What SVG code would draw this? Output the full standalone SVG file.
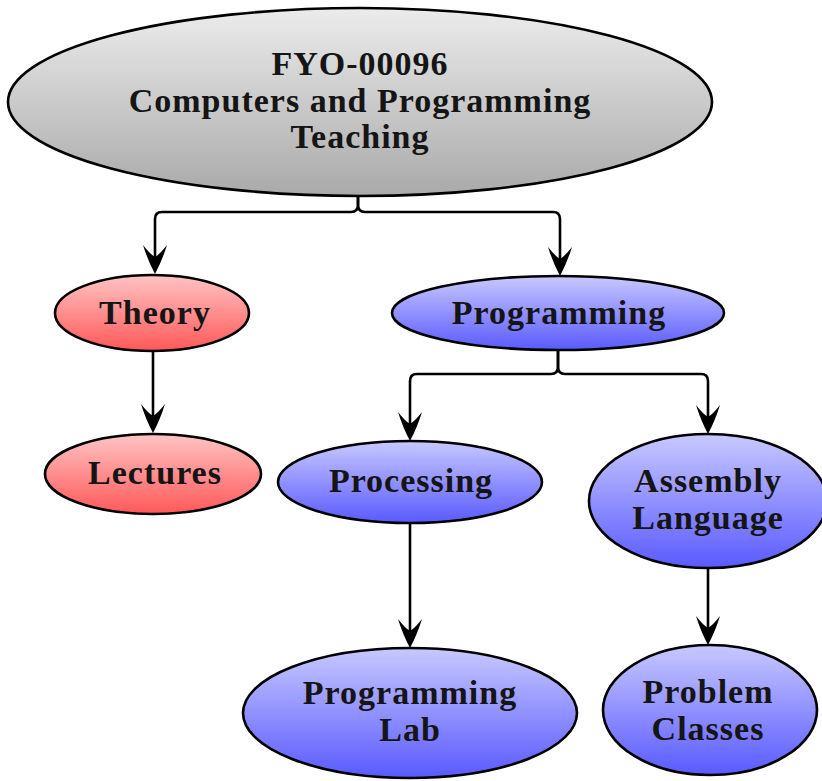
<svg xmlns="http://www.w3.org/2000/svg" width="822" height="781" viewBox="0 0 822 781">
  <defs>
    <linearGradient id="gGrey" x1="0" y1="0" x2="0" y2="1">
      <stop offset="0" stop-color="#ececec"/>
      <stop offset="1" stop-color="#a9a9a9"/>
    </linearGradient>
    <linearGradient id="gRed" x1="0" y1="0" x2="0" y2="1">
      <stop offset="0" stop-color="#ffc4c4"/>
      <stop offset="1" stop-color="#ff5858"/>
    </linearGradient>
    <linearGradient id="gBlue" x1="0" y1="0" x2="0" y2="1">
      <stop offset="0" stop-color="#c8c8ff"/>
      <stop offset="1" stop-color="#5a5aff"/>
    </linearGradient>
    <marker id="stealth" markerUnits="userSpaceOnUse" viewBox="-32 -14 34 28" markerWidth="34" markerHeight="28" refX="-10" refY="0" orient="auto">
      <path d="M0,0 Q-13,-7 -29,-12 Q-20,-5 -17,0 Q-20,5 -29,12 Q-13,7 0,0 Z" fill="#000"/>
    </marker>
    <style>
      .node ellipse { stroke: #000; stroke-width: 2.6; }
      .node text { font-family: "Liberation Serif", "Times New Roman", serif; font-weight: bold; font-size: 34px; letter-spacing: 1px; fill: #151515; text-anchor: middle; }
      .edge { fill: none; stroke: #000; stroke-width: 2.6; marker-end: url(#stealth); }
    </style>
  </defs>

  <!-- connectors -->
  <g id="connectors">
    <path class="edge" d="M358,196 L358,205 Q358,212 351,212 L162,212 Q155,212 155,219 L155,264"/>
    <path class="edge" d="M358,196 L358,205 Q358,212 365,212 L553,212 Q560,212 560,219 L560,266"/>
    <path class="edge" d="M153,351 L153,423"/>
    <path class="edge" d="M558,350 L558,367 Q558,374 551,374 L417,374 Q410,374 410,381 L410,431"/>
    <path class="edge" d="M558,350 L558,367 Q558,374 565,374 L701,374 Q708,374 708,381 L708,424"/>
    <path class="edge" d="M410,524 L410,638"/>
    <path class="edge" d="M708,568 L708,635"/>
  </g>

  <!-- nodes -->
  <g id="root" class="node">
    <ellipse cx="360" cy="102" rx="352" ry="94" fill="url(#gGrey)"/>
    <text x="360" y="75">FYO-00096</text>
    <text x="360" y="112">Computers and Programming</text>
    <text x="360" y="148">Teaching</text>
  </g>

  <g id="theory" class="node">
    <ellipse cx="152" cy="313" rx="97" ry="38" fill="url(#gRed)"/>
    <text x="155" y="324">Theory</text>
  </g>

  <g id="lectures" class="node">
    <ellipse cx="153" cy="474" rx="108" ry="40" fill="url(#gRed)"/>
    <text x="155" y="484">Lectures</text>
  </g>

  <g id="programming" class="node">
    <ellipse cx="558" cy="313" rx="166" ry="37" fill="url(#gBlue)"/>
    <text x="559" y="324">Programming</text>
  </g>

  <g id="processing" class="node">
    <ellipse cx="410" cy="482" rx="132" ry="41" fill="url(#gBlue)"/>
    <text x="411" y="492">Processing</text>
  </g>

  <g id="assembly" class="node">
    <ellipse cx="708" cy="501" rx="119" ry="67" fill="url(#gBlue)"/>
    <text x="708" y="492">Assembly</text>
    <text x="708" y="529">Language</text>
  </g>

  <g id="programming-lab" class="node">
    <ellipse cx="410" cy="713" rx="167" ry="65" fill="url(#gBlue)"/>
    <text x="410" y="704">Programming</text>
    <text x="410" y="741">Lab</text>
  </g>

  <g id="problem-classes" class="node">
    <ellipse cx="710" cy="710" rx="107" ry="65" fill="url(#gBlue)"/>
    <text x="708" y="703">Problem</text>
    <text x="708" y="740">Classes</text>
  </g>
</svg>
